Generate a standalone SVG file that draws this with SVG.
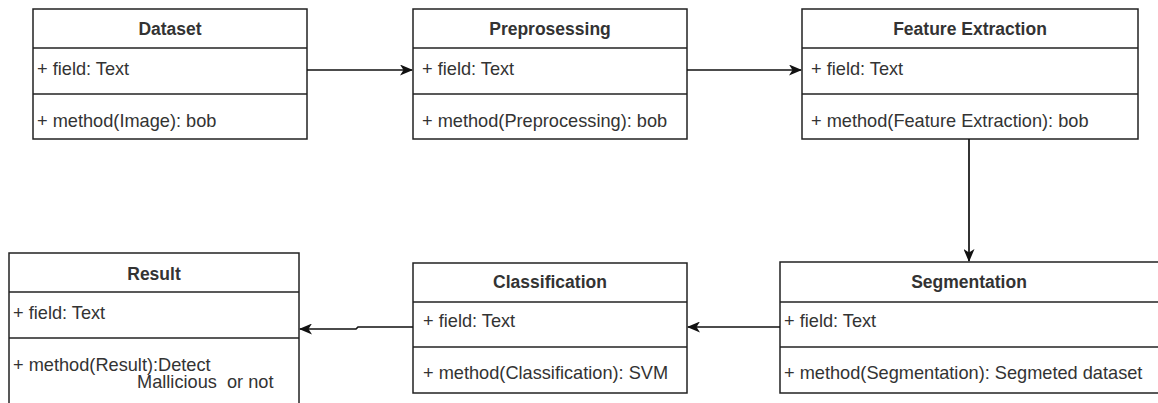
<svg xmlns="http://www.w3.org/2000/svg" width="1158" height="403" viewBox="0 0 1158 403">
  <style>
    .box { fill: #ffffff; stroke: #222222; stroke-width: 1.5; }
    .sep { stroke: #222222; stroke-width: 1.5; }
    .title { font-family: "Liberation Sans", Arial, sans-serif; font-size: 17.5px; font-weight: bold; fill: #333333; text-anchor: middle; }
    .member { font-family: "Liberation Sans", Arial, sans-serif; font-size: 18.2px; fill: #333333; }
    .edge { fill: none; stroke: #111111; stroke-width: 1.7; }
  </style>
  <defs>
    <marker id="arrow" viewBox="0 0 13 11" refX="12" refY="5.5" markerWidth="13" markerHeight="11" markerUnits="userSpaceOnUse" orient="auto">
      <path d="M0,0 L13,5.5 L0,11 L3.5,5.5 Z" fill="#111111"/>
    </marker>
  </defs>

  <rect width="1158" height="403" fill="#ffffff"/>

  <!-- Dataset -->
  <g id="dataset">
    <rect class="box" x="33" y="9" width="274" height="130"/>
    <line class="sep" x1="33" y1="48" x2="307" y2="48"/>
    <line class="sep" x1="33" y1="94" x2="307" y2="94"/>
    <text class="title" x="170" y="35">Dataset</text>
    <text class="member" x="37" y="75">+ field: Text</text>
    <text class="member" x="37" y="127">+ method(Image): bob</text>
  </g>

  <!-- Preprocessing -->
  <g id="preprocessing">
    <rect class="box" x="413" y="9" width="274" height="130"/>
    <line class="sep" x1="413" y1="48" x2="687" y2="48"/>
    <line class="sep" x1="413" y1="94" x2="687" y2="94"/>
    <text class="title" x="550" y="35">Preprosessing</text>
    <text class="member" x="422" y="75">+ field: Text</text>
    <text class="member" x="422" y="127">+ method(Preprocessing): bob</text>
  </g>

  <!-- Feature Extraction -->
  <g id="feature-extraction">
    <rect class="box" x="802" y="9" width="336" height="130"/>
    <line class="sep" x1="802" y1="48" x2="1138" y2="48"/>
    <line class="sep" x1="802" y1="94" x2="1138" y2="94"/>
    <text class="title" x="970" y="35">Feature Extraction</text>
    <text class="member" x="811" y="75">+ field: Text</text>
    <text class="member" x="811" y="127">+ method(Feature Extraction): bob</text>
  </g>

  <!-- Segmentation (runs off the right edge) -->
  <g id="segmentation">
    <rect class="box" x="780" y="262" width="390" height="131"/>
    <line class="sep" x1="780" y1="302" x2="1170" y2="302"/>
    <line class="sep" x1="780" y1="347" x2="1170" y2="347"/>
    <text class="title" x="969" y="288">Segmentation</text>
    <text class="member" x="784" y="327">+ field: Text</text>
    <text class="member" x="784" y="379">+ method(Segmentation): Segmeted dataset</text>
  </g>

  <!-- Classification -->
  <g id="classification">
    <rect class="box" x="413" y="263" width="274" height="130"/>
    <line class="sep" x1="413" y1="302" x2="687" y2="302"/>
    <line class="sep" x1="413" y1="347" x2="687" y2="347"/>
    <text class="title" x="550" y="288">Classification</text>
    <text class="member" x="423" y="327">+ field: Text</text>
    <text class="member" x="423" y="379">+ method(Classification): SVM</text>
  </g>

  <!-- Result (runs off the bottom edge) -->
  <g id="result">
    <rect class="box" x="9" y="253" width="290" height="170"/>
    <line class="sep" x1="9" y1="292" x2="299" y2="292"/>
    <line class="sep" x1="9" y1="338" x2="299" y2="338"/>
    <text class="title" x="154" y="280">Result</text>
    <text class="member" x="13" y="319">+ field: Text</text>
    <text class="member" x="13" y="371">+ method(Result):Detect</text>
    <text class="member" x="137" y="388" xml:space="preserve">Mallicious  or not</text>
  </g>

  <!-- Connectors -->
  <g id="connectors">
    <path class="edge" d="M307,70 L412,70" marker-end="url(#arrow)"/>
    <path class="edge" d="M687,70 L801,70" marker-end="url(#arrow)"/>
    <path class="edge" d="M969,139 L969,261" marker-end="url(#arrow)"/>
    <path class="edge" d="M780,327 L688,327" marker-end="url(#arrow)"/>
    <path class="edge" d="M413,327 L358,327 L356,329 L300,329" marker-end="url(#arrow)"/>
  </g>
</svg>
